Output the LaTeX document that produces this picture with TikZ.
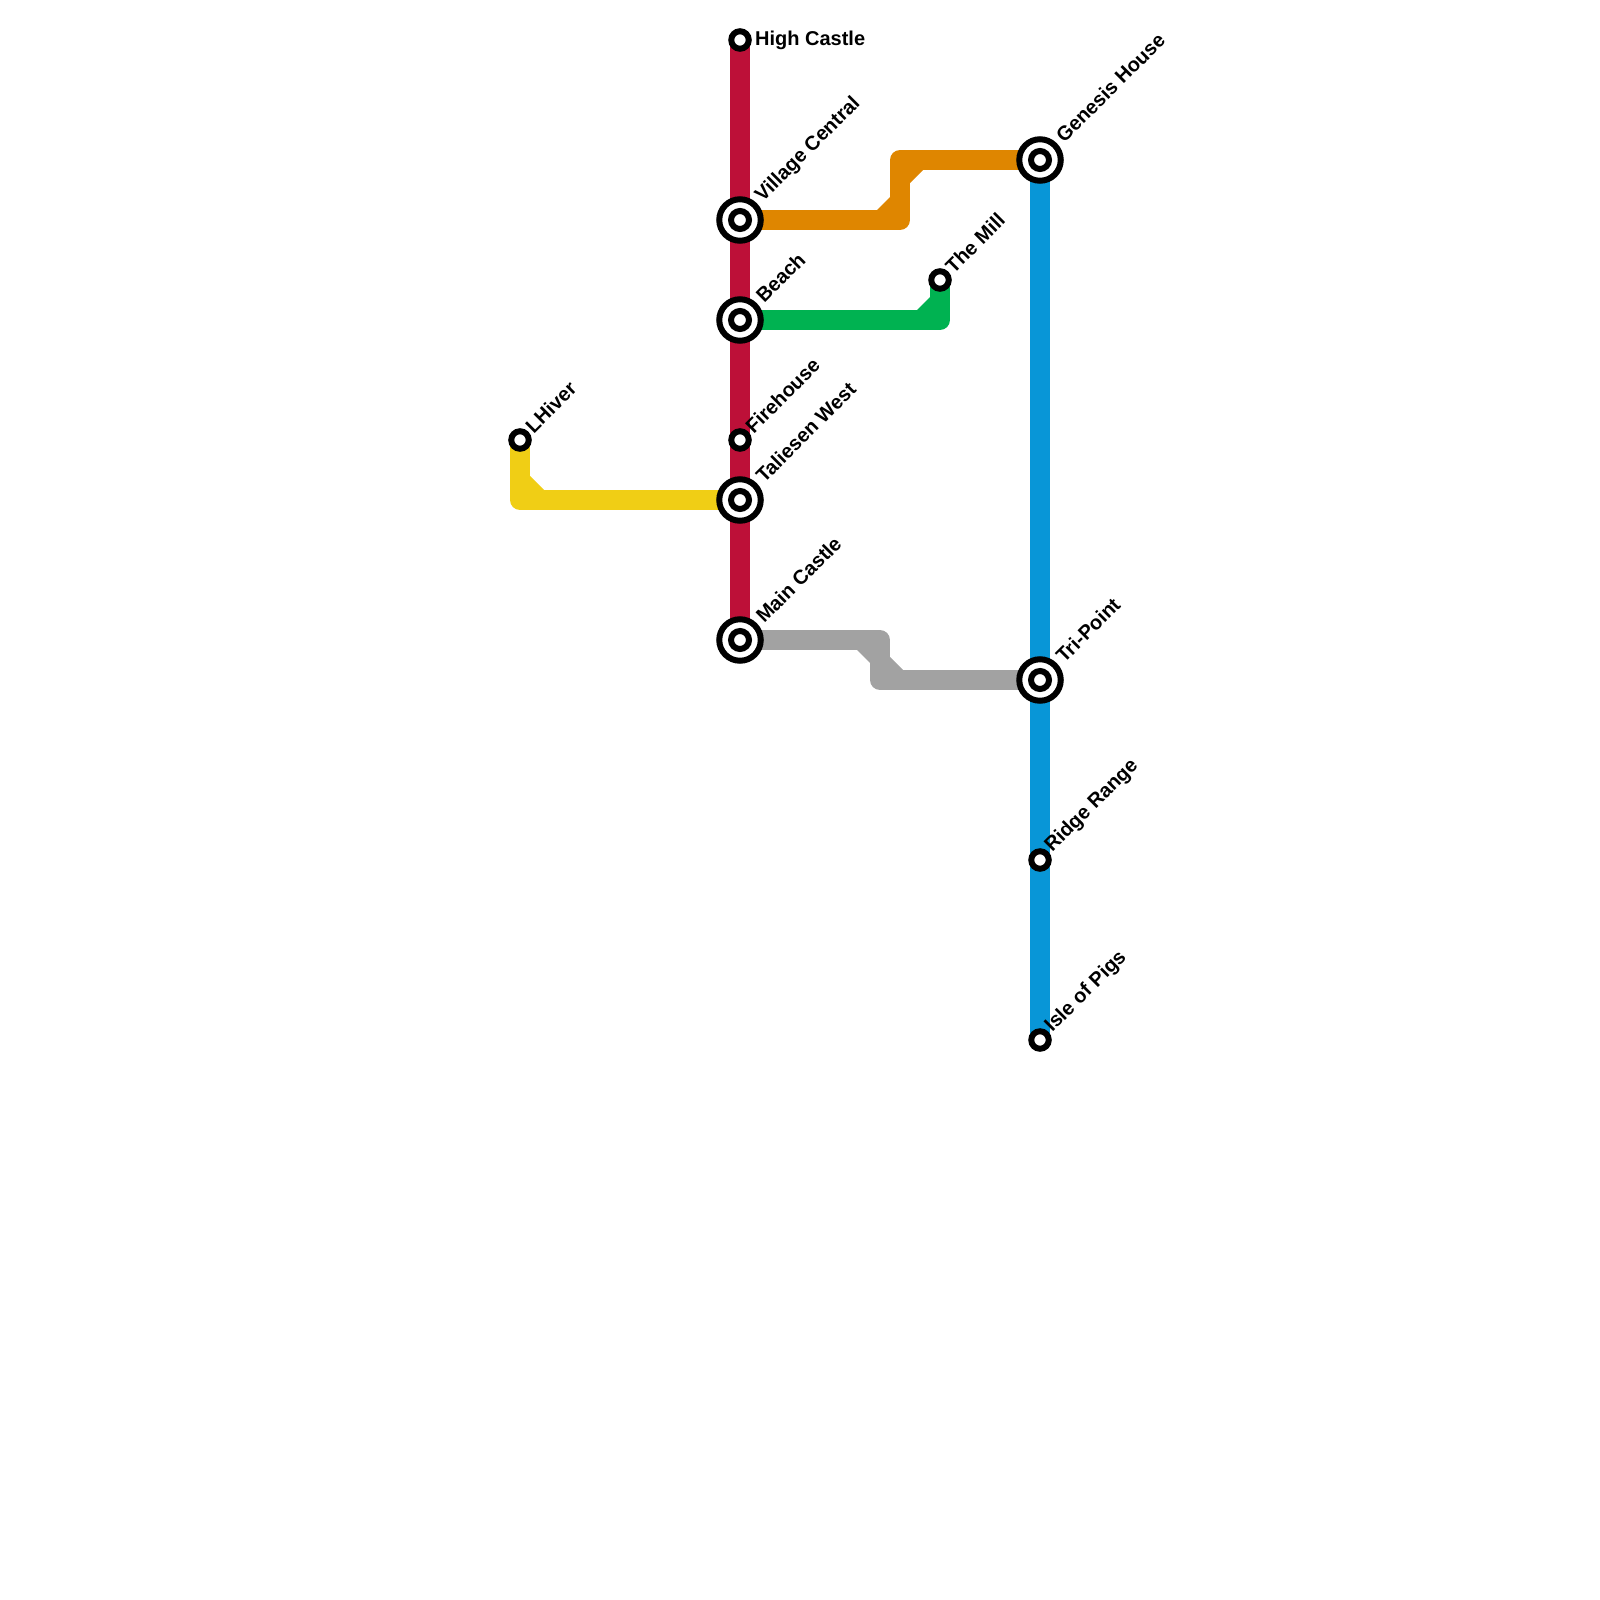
\documentclass[tikz,border=0pt]{standalone}
\usepackage{fontspec}
\setmainfont{Liberation Sans}
\definecolor{linered}{HTML}{BD1038}
\definecolor{lineorange}{HTML}{DF8600}
\definecolor{linegreen}{HTML}{00B251}
\definecolor{lineyellow}{HTML}{F0CE15}
\definecolor{lineblue}{HTML}{0896D7}
\definecolor{linegray}{HTML}{A2A2A2}
\tikzset{
    railline/.style={line width=10pt, line join=round},
    stop/.style={circle, draw=black, fill=white, line width=3pt, inner sep=0pt, minimum size=8.75pt},
    interchange/.style={stop, minimum size=20.75pt, path picture={
            \draw[line width=3pt] (path picture bounding box.center) circle (4.5pt);}},
    tilted/.style={rotate=45, anchor=west, font=\bfseries\fontsize{10}{12}\selectfont, inner sep=1.5pt},
    tiltedsmall/.style={xshift=-1pt, tilted},
    tiltedbig/.style={yshift=1pt, tilted},
    flat/.style={anchor=west, font=\bfseries\fontsize{10}{12}\selectfont, inner sep=1.5pt}
}
\begin{document}
\begin{tikzpicture}[x=0.5pt, y=-0.5pt]
    \useasboundingbox (0,0) rectangle (1600,1600);
    \coordinate (highcastlepos) at (740,40);
    \coordinate (villagepos) at (740,220);
    \coordinate (beachpos) at (740,320);
    \coordinate (firehousepos) at (740,440);
    \coordinate (taliesenpos) at (740,500);
    \coordinate (maincastlepos) at (740,640);
    \coordinate (lhiverpos) at (520,440);
    \coordinate (millpos) at (940,280);
    \coordinate (genesispos) at (1040,160);
    \coordinate (tripointpos) at (1040,680);
    \coordinate (ridgepos) at (1040,860);
    \coordinate (islepos) at (1040,1040);

    % lines
    \draw[railline, linered] (highcastlepos) -- (maincastlepos);
    \draw[railline, lineblue] (genesispos) -- (islepos);
    \draw[railline, lineorange] (villagepos) -- (900,220) -- (900,160) -- (genesispos);
    \fill[lineorange] (890,197) -- (877,210) -- (890,210) -- cycle;
    \fill[lineorange] (910,183) -- (923,170) -- (910,170) -- cycle;
    \draw[railline, linegreen] (beachpos) -- (940,320) -- (millpos);
    \fill[linegreen] (917,310) -- (930,297) -- (930,310) -- cycle;
    \draw[railline, linegray] (maincastlepos) -- (880,640) -- (880,680) -- (tripointpos);
    \fill[linegray] (857,650) -- (870,663) -- (870,650) -- cycle;
    \fill[linegray] (890,657) -- (903,670) -- (890,670) -- cycle;
    \draw[railline, lineyellow] (lhiverpos) -- (520,500) -- (taliesenpos);
    \fill[lineyellow] (530,476) -- (544,490) -- (530,490) -- cycle;

    % stations
    \node[stop] (highcastle) at (highcastlepos) {};
    \node[interchange] (village) at (villagepos) {};
    \node[interchange] (beach) at (beachpos) {};
    \node[stop] (firehouse) at (firehousepos) {};
    \node[interchange] (taliesen) at (taliesenpos) {};
    \node[interchange] (maincastle) at (maincastlepos) {};
    \node[stop] (lhiver) at (lhiverpos) {};
    \node[stop] (mill) at (millpos) {};
    \node[interchange] (genesis) at (genesispos) {};
    \node[interchange] (tripoint) at (tripointpos) {};
    \node[stop] (ridge) at (ridgepos) {};
    \node[stop] (isle) at (islepos) {};

    % names
    \node[flat] (highcastlename) at (highcastle.east) {High Castle};
    \node[tiltedbig] (villagename) at (village.north east) {Village Central};
    \node[tiltedbig] (beachname) at (beach.north east) {Beach};
    \node[tiltedsmall] (firehousename) at (firehouse.north east) {Firehouse};
    \node[tiltedbig] (taliesenname) at (taliesen.north east) {Taliesen West};
    \node[tiltedbig] (maincastlename) at (maincastle.north east) {Main Castle};
    \node[tiltedsmall] (lhivername) at (lhiver.north east) {LHiver};
    \node[tiltedsmall] (millname) at (mill.north east) {The Mill};
    \node[tiltedbig] (genesisname) at (genesis.north east) {Genesis House};
    \node[tiltedbig] (tripointname) at (tripoint.north east) {Tri-Point};
    \node[tiltedsmall] (ridgename) at (ridge.north east) {Ridge Range};
    \node[tiltedsmall] (islename) at (isle.north east) {Isle of Pigs};
\end{tikzpicture}
\end{document}
